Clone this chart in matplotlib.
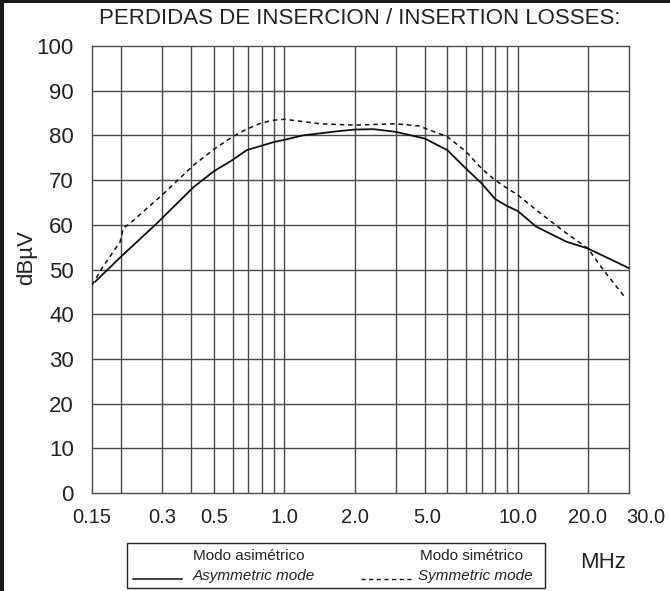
import matplotlib
matplotlib.use('Agg')
import matplotlib.pyplot as plt
import matplotlib.transforms as mtransforms
from matplotlib.lines import Line2D
from matplotlib.patches import Rectangle

# frequency (MHz) / level (dBuV)
freq_asym = [0.155, 0.2, 0.284, 0.41, 0.5, 0.6, 0.69, 0.8, 0.9, 1.0, 1.2, 1.74,
             2.0, 2.4, 3.0, 4.0, 5.0, 6.0, 7.0, 8.0, 9.0, 10.0, 12.0, 16.2, 20.0, 30.0]
level_asym = [47.3, 52.9, 60.3, 68.5, 72.0, 74.5, 76.7, 77.7, 78.5, 79.0, 80.0, 81.0,
              81.3, 81.4, 80.8, 79.3, 76.7, 72.6, 69.3, 65.8, 64.2, 63.1, 59.6, 56.2, 54.7, 50.3]

freq_sym = [0.15, 0.167, 0.198, 0.204, 0.218, 0.3, 0.41, 0.5, 0.6, 0.69, 0.8, 0.9, 1.0,
            1.12, 1.42, 2.0, 3.0, 3.8, 4.0, 5.0, 6.0, 7.0, 8.0, 9.0, 10.0, 12.5, 16.2,
            20.0, 23.3, 29.0]
level_sym = [46.5, 50.6, 56.2, 59.2, 60.3, 66.7, 73.4, 76.9, 79.7, 81.4, 82.8, 83.4, 83.6,
             83.3, 82.6, 82.3, 82.6, 82.1, 81.6, 79.7, 76.4, 72.6, 70.0, 68.2, 66.7, 62.6, 58.1,
             54.7, 49.9, 43.6]

x_grid = [0.2, 0.3, 0.4, 0.5, 0.6, 0.7, 0.8, 0.9, 1.0, 2.0, 3.0, 4.0, 5.0, 6.0, 7.0,
          8.0, 9.0, 10.0, 20.0]
x_tick_pos = [0.15, 0.3, 0.5, 1.0, 2.0, 4.1, 10.0, 20.0, 30.0]
x_tick_labels = ['0.15', '0.3', '0.5', '1.0', '2.0', '5.0', '10.0', '20.0', '30.0']
y_ticks = [0, 10, 20, 30, 40, 50, 60, 70, 80, 90, 100]

W, H = 670, 591
plt.rcParams['font.family'] = ['Liberation Sans', 'DejaVu Sans']

fig = plt.figure(figsize=(W / 100, H / 100), dpi=100)
fig.patch.set_facecolor('white')

ax = fig.add_axes([92 / W, 1 - 493 / H, (629 - 92) / W, (493 - 46) / H])
ax.set_xscale('log')
ax.set_xlim(0.15, 30)
ax.set_ylim(0, 100)

grid_col = '#4a4a4a'
for xv in x_grid:
    ax.axvline(xv, color=grid_col, lw=1.0, zorder=1)
for yv in y_ticks[1:-1]:
    ax.axhline(yv, color=grid_col, lw=1.0, zorder=1)

ax.plot(freq_asym, level_asym, color='#111111', lw=1.3, zorder=3)
ax.plot(freq_sym, level_sym, color='#111111', lw=1.1, ls=(0, (3, 2.5)), zorder=3)

for s in ax.spines.values():
    s.set_color(grid_col)
    s.set_linewidth(1.0)

ax.set_xticks(x_tick_pos)
ax.set_xticklabels(x_tick_labels)
ax.xaxis.set_minor_locator(matplotlib.ticker.NullLocator())
ax.set_yticks(y_ticks)
ax.tick_params(axis='x', length=0, pad=11, labelsize=14.5, colors='#222222')
ax.tick_params(axis='y', length=0, pad=13, labelsize=16, colors='#222222')

# the last label sits to the right of the frame in the original
last = ax.get_xticklabels()[-1]
last.set_transform(last.get_transform() +
                   mtransforms.ScaledTranslation(17 / 100, 0, fig.dpi_scale_trans))

fig.text(360 / W, 1 - 19 / H, 'PERDIDAS DE INSERCION / INSERTION LOSSES:',
         ha='center', va='center', fontsize=16, color='#222222')
fig.text(27 / W, 1 - 258 / H, 'dBµV', rotation=90, ha='center', va='center',
         fontsize=16, color='#222222')
fig.text(603 / W, 1 - 563 / H, 'MHz', ha='center', va='center',
         fontsize=16, color='#222222')

# legend box drawn by hand (two-line labels, second line italic)
fig.add_artist(Rectangle((127 / W, 1 - 588 / H), (545 - 127) / W, (588 - 543) / H,
                         transform=fig.transFigure, fill=False, ec='#222222', lw=1.0))
fig.add_artist(Line2D([133 / W, 182 / W], [1 - 579 / H, 1 - 579 / H],
                      transform=fig.transFigure, color='#111111', lw=1.1))
fig.add_artist(Line2D([361 / W, 412 / W], [1 - 579 / H, 1 - 579 / H],
                      transform=fig.transFigure, color='#111111', lw=1.0, ls=(0, (3, 2.5))))
fig.text(193 / W, 1 - 556 / H, 'Modo asimétrico', ha='left', va='center',
         fontsize=11, color='#222222')
fig.text(193 / W, 1 - 576 / H, 'Asymmetric mode', ha='left', va='center',
         fontsize=11, style='italic', color='#222222')
fig.text(420 / W, 1 - 556 / H, 'Modo simétrico', ha='left', va='center',
         fontsize=11, color='#222222')
fig.text(418 / W, 1 - 576 / H, 'Symmetric mode', ha='left', va='center',
         fontsize=11, style='italic', color='#222222')

# dark scan border on the left and top edges
fig.add_artist(Rectangle((0, 0), 4 / W, 1, transform=fig.transFigure,
                         color='#1a1a1a', lw=0))
fig.add_artist(Rectangle((0, 1 - 3 / H), 1, 3 / H, transform=fig.transFigure,
                         color='#1a1a1a', lw=0))

fig.savefig('out.png', dpi=100)
